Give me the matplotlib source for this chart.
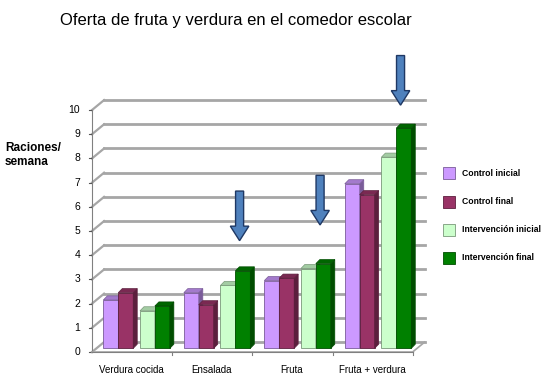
import matplotlib
matplotlib.use("Agg")
import matplotlib.pyplot as plt
import matplotlib.colors as mcolors
from matplotlib.patches import Rectangle, FancyArrow

plt.rcParams['font.family'] = ['Liberation Sans', 'DejaVu Sans']

# data
categories = ["Verdura cocida", "Ensalada", "Fruta", "Fruta + verdura"]
series = ["Control inicial", "Control final", "Intervención inicial", "Intervención final"]
control_inicial = [2.0, 2.3, 2.8, 6.8]
control_final = [2.3, 1.8, 2.9, 6.35]
intervencion_inicial = [1.55, 2.6, 3.3, 7.9]
intervencion_final = [1.75, 3.2, 3.5, 9.1]
values = [control_inicial, control_final, intervencion_inicial, intervencion_final]
colors = ["#cc99ff", "#993366", "#ccffcc", "#008000"]
yticks = list(range(0, 11))
arrow_groups = [1, 2, 3]
arrow_tips = [4.6, 5.25, 10.2]

W, H = 544, 381
fig = plt.figure(figsize=(W / 100, H / 100), dpi=100)
ax = fig.add_axes([92 / W, (H - 352) / H, (430 - 92) / W, (352 - 110) / H])
ax.set_xlim(-0.534, 3.666)
ax.set_ylim(0, 10)
ax.axis("off")

dx, dy = 0.05, 0.17      # bar depth
gx, gy = 0.15, 0.41      # wall depth
base = 0.15              # bars sit a little back on the floor
offsets = [-0.30, -0.115, 0.155, 0.34]
bw = 0.186

# back wall grid lines + left wall diagonals
for t in yticks:
    ax.plot([-0.534, -0.534 + gx], [t, t + gy], color="#a6a6a6", lw=1.6, clip_on=False)
    ax.plot([-0.534 + gx, 3.60], [t + gy, t + gy], color="#a6a6a6", lw=2.0, clip_on=False)
    ax.plot([-0.534, -0.57], [t, t], color="#555555", lw=0.8, clip_on=False)
    ax.text(-0.68, t, str(t), ha="right", va="center", fontsize=7.5)
ax.plot([-0.534, -0.534], [0, 10], color="#808080", lw=0.8, clip_on=False)
# floor
ax.plot([-0.534, 3.45, 3.60], [0, 0, gy], color="#a6a6a6", lw=1.2, clip_on=False)
ax.plot([-0.534, 3.45], [0, 0], color="#808080", lw=0.8, clip_on=False)
for k in range(4):
    xt = k + 0.46
    ax.plot([xt, xt], [0, -0.12], color="#808080", lw=0.8, clip_on=False)

for s, (vals, col) in enumerate(zip(values, colors)):
    dark = [c * 0.6 for c in mcolors.to_rgb(col)]
    mid = [c * 0.8 for c in mcolors.to_rgb(col)]
    xs = [i + offsets[s] for i in range(len(categories))]
    ax.bar(xs, vals, width=bw, bottom=base, color=col, edgecolor=dark, lw=0.6, zorder=3)
    for x, v in zip(xs, vals):
        r = x + bw / 2
        l = x - bw / 2
        top = v + base
        ax.fill([r, r + dx, r + dx, r], [base, base + dy, top + dy, top],
                color=dark, ec=dark, lw=0.5, zorder=3)
        ax.fill([l, l + dx, r + dx, r], [top, top + dy, top + dy, top],
                color=mid, ec=dark, lw=0.5, zorder=3)

for i, name in enumerate(categories):
    ax.text(i - 0.05, -0.55, name, ha="center", va="top", fontsize=7, clip_on=False)

for g, tip in zip(arrow_groups, arrow_tips):
    ax.add_patch(FancyArrow(g + 0.30, tip + 2.05, 0, -2.05, width=0.10, head_width=0.23,
                            head_length=0.6, length_includes_head=True,
                            fc="#4f81bd", ec="#1f3864", lw=1.0, clip_on=False, zorder=5))

fig.text(236 / W, 1 - 20 / H, "Oferta de fruta y verdura en el comedor escolar",
         ha="center", va="center", fontsize=12)
fig.text(5 / W, 1 - 155 / H, "Raciones/\nsemana", ha="left", va="center",
         fontsize=8.5, fontweight="bold", linespacing=1.2)

leg_y = [173, 202, 230, 258]
for name, col, yy in zip(series, colors, leg_y):
    dark = [c * 0.6 for c in mcolors.to_rgb(col)]
    fig.add_artist(Rectangle((443 / W, 1 - (yy + 6) / H), 12 / W, 12 / H,
                             transform=fig.transFigure, fc=col, ec=dark, lw=0.6))
    fig.text(462 / W, 1 - yy / H, name, ha="left", va="center",
             fontsize=6.2, fontweight="bold")

fig.savefig("out.png", dpi=100)
